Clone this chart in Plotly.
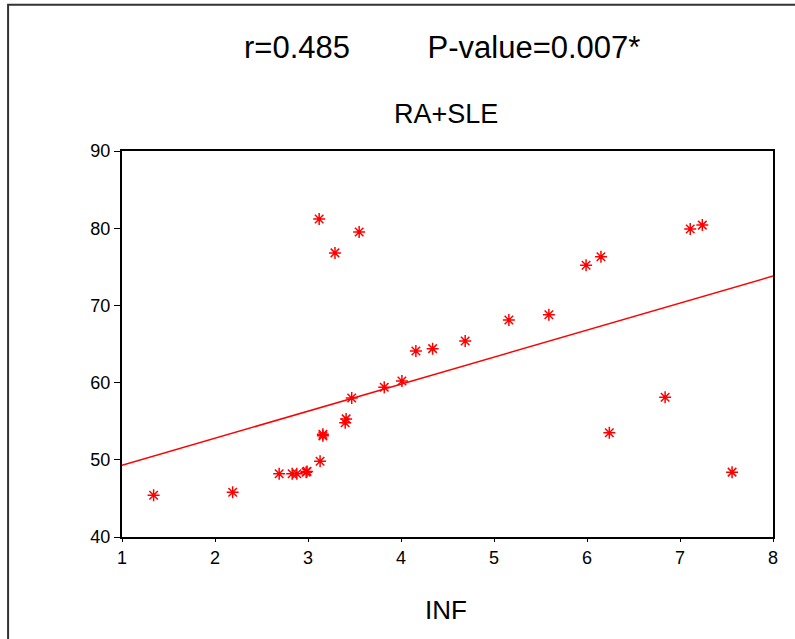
import plotly.graph_objects as go

# Data
inf_x = [1.34, 2.19, 2.69, 2.83, 2.88, 2.98, 2.99, 3.13, 3.16, 3.16, 3.40, 3.41, 3.47,
         3.12, 3.29, 3.55, 3.82, 4.01, 4.16, 4.34, 4.69, 5.16, 5.59, 5.99, 6.15,
         6.24, 6.84, 7.11, 7.24, 7.56]
val_y = [45.4, 45.8, 48.2, 48.2, 48.2, 48.4, 48.5, 49.8, 53.3, 53.1, 54.8, 55.3, 58.0,
         81.2, 76.8, 79.5, 59.4, 60.2, 64.1, 64.4, 65.4, 68.1, 68.8, 75.2, 76.3,
         53.5, 58.1, 79.9, 80.4, 48.4]
fit_x = [1, 8]
fit_y = [49.3, 73.8]
x_ticks = [1, 2, 3, 4, 5, 6, 7, 8]
y_ticks = [40, 50, 60, 70, 80, 90]

fig = go.Figure()
fig.add_trace(go.Scatter(x=fit_x, y=fit_y, mode="lines",
                         line=dict(color="#ff0000", width=1.5), showlegend=False))
fig.add_trace(go.Scatter(x=inf_x, y=val_y, mode="markers",
                         marker=dict(symbol="asterisk-open", size=10,
                                     line=dict(color="#ff0000", width=1.5), color="#ff0000"),
                         showlegend=False))

font_family = "Liberation Sans, Arial, sans-serif"
fig.update_layout(
    width=795, height=639,
    margin=dict(l=122, r=22, t=151, b=102),
    paper_bgcolor="white", plot_bgcolor="white",
    font=dict(family=font_family, color="black"),
    xaxis=dict(range=[1, 8], tickvals=x_ticks, showgrid=False, zeroline=False,
               showline=True, linecolor="black", linewidth=2, mirror=True,
               ticks="outside", ticklen=3, tickcolor="black", tickwidth=1,
               tickfont=dict(size=18, family=font_family, color="black")),
    yaxis=dict(range=[40, 90], tickvals=y_ticks, showgrid=False, zeroline=False,
               showline=True, linecolor="black", linewidth=2, mirror=True,
               ticks="outside", ticklen=6, tickcolor="black", tickwidth=1,
               tickfont=dict(size=18, family=font_family, color="black")),
    shapes=[dict(type="rect", xref="paper", yref="paper",
                 x0=-0.175, x1=1.2, y0=-0.4, y1=1.379,
                 line=dict(color="#333333", width=2), fillcolor="rgba(0,0,0,0)",
                 layer="below")],
    annotations=[
        dict(text="r=0.485" + "&nbsp;" * 9 + "P-value=0.007*",
             xref="paper", yref="paper", x=0.492, y=1.268, showarrow=False,
             xanchor="center", yanchor="middle", font=dict(size=31, family=font_family)),
        dict(text="RA+SLE", xref="paper", yref="paper", x=0.497, y=1.097, showarrow=False,
             xanchor="center", yanchor="middle", font=dict(size=27, family=font_family)),
        dict(text="INF", xref="paper", yref="paper", x=0.497, y=-0.189, showarrow=False,
             xanchor="center", yanchor="middle", font=dict(size=26, family=font_family)),
    ],
)

fig.write_html("out.html")
